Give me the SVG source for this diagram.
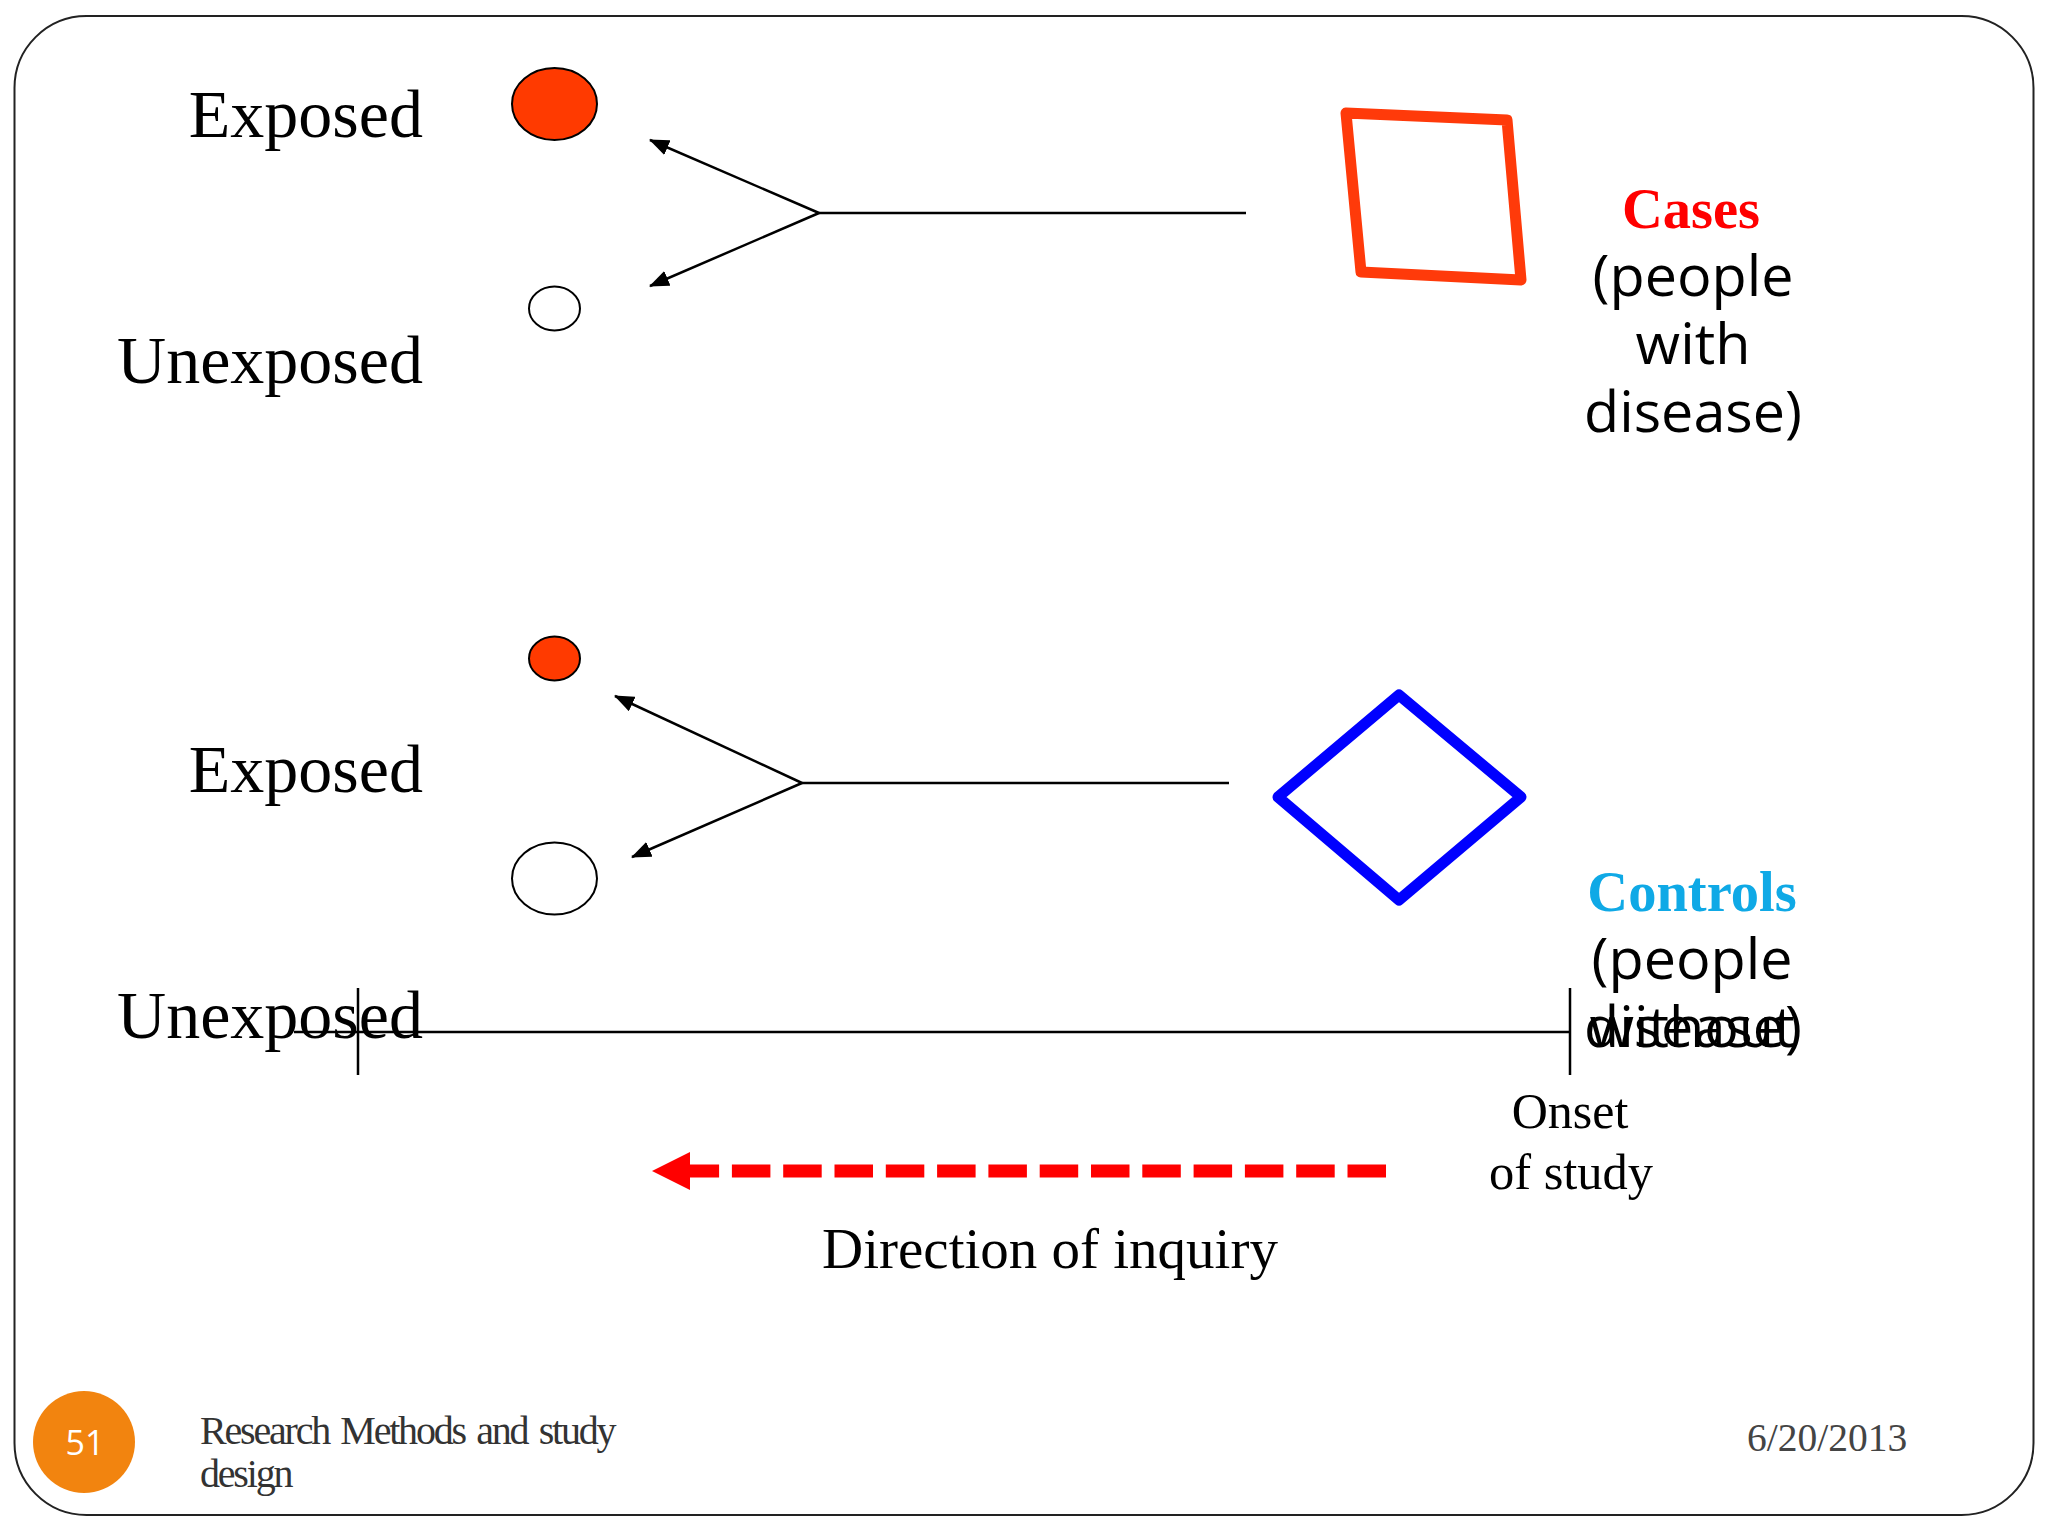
<svg xmlns="http://www.w3.org/2000/svg" width="2048" height="1536" viewBox="0 0 2048 1536">
<style>
.t{font-family:"Liberation Serif","Times New Roman",serif;fill:#000}
.s{font-family:"Open Sans","Noto Sans",sans-serif;fill:#000;font-size:57.500px;text-anchor:middle}
.g{font-size:68px;text-anchor:end}
.c{stroke:#000;stroke-width:2.500;fill:none}
.a{stroke:#000;stroke-width:2.500;fill:none;marker-end:url(#ah)}
.e{stroke:#000;stroke-width:2}
</style>
<defs>
<marker id="ah" markerUnits="userSpaceOnUse" markerWidth="20" markerHeight="16" refX="19" refY="8" orient="auto"><path d="M0 0L20 8L0 16Z" fill="#000"/></marker>
</defs>
<rect width="2048" height="1536" fill="#fff"/>
<rect id="frame" x="14.500" y="16" width="2019" height="1499" rx="72" ry="72" fill="#fff" stroke="#222" stroke-width="2"/>
<g id="exposure-labels">
<text class="t g" x="423" y="137">Exposed</text>
<text class="t g" x="423" y="383">Unexposed</text>
<text class="t g" x="423" y="792">Exposed</text>
<text class="t g" x="423" y="1038">Unexposed</text>
</g>
<g id="exposed-cases"><ellipse class="e" cx="554.500" cy="104" rx="42.500" ry="36" fill="#ff3a00"/></g>
<g id="unexposed-cases"><ellipse class="e" cx="554.500" cy="308.500" rx="25.500" ry="22" fill="#fff" stroke-width="1.500"/></g>
<g id="exposed-controls"><ellipse class="e" cx="554.500" cy="658.500" rx="25.500" ry="22" fill="#ff3a00"/></g>
<g id="unexposed-controls"><ellipse class="e" cx="554.500" cy="878.500" rx="42.500" ry="36" fill="#fff"/></g>
<g id="connectors">
<path class="c" d="M819 213H1246"/>
<path class="a" d="M819 213L650 140"/>
<path class="a" d="M819 213L650 286"/>
<path class="c" d="M802 783H1229"/>
<path class="a" d="M802 783L615 696"/>
<path class="a" d="M802 783L632 857"/>
<path class="c" d="M294 1032H1570" stroke-width="3"/>
<path class="c" d="M358 988V1075M1570 988V1075" stroke-width="2"/>
<path d="M1386 1171H690" stroke="#f00" stroke-width="13" stroke-dasharray="38.500 12.800" fill="none"/>
<path d="M652 1171L690 1152V1190Z" fill="#f00"/>
</g>
<g id="cases-shape"><path d="M1346 113L1507 120L1521 280L1361 272Z" fill="none" stroke="#ff3a0a" stroke-width="11" stroke-linejoin="round"/></g>
<g id="controls-shape"><path d="M1399 695L1521 797L1399 900L1278 797Z" fill="none" stroke="#00f" stroke-width="11" stroke-linejoin="round"/></g>
<g id="cases-label">
<text class="t" x="1691" y="228" font-size="56.500" font-weight="bold" text-anchor="middle" style="fill:#f00">Cases</text>
<text class="s" x="1693" y="296">(people</text>
<text class="s" x="1693" y="364">with</text>
<text class="s" x="1693" y="432">disease)</text>
</g>
<g id="controls-label">
<text class="t" x="1692" y="911" font-size="56.500" font-weight="bold" text-anchor="middle" style="fill:#0fa9e6">Controls</text>
<text class="s" x="1692" y="979">(people</text>
<text class="s" x="1692" y="1047">without</text>
<text class="s" x="1693" y="1047">disease)</text>
</g>
<g id="onset-label">
<text class="t" x="1570" y="1128" font-size="50" text-anchor="middle">Onset</text>
<text class="t" x="1571" y="1189" font-size="50.500" text-anchor="middle">of study</text>
</g>
<g id="inquiry-label"><text class="t" x="1050" y="1268" font-size="57" text-anchor="middle">Direction of inquiry</text></g>
<g id="page-number"><circle cx="84" cy="1442" r="51" fill="#f2840f"/><text x="85" y="1455" font-family="'Open Sans','Noto Sans',sans-serif" font-size="34" fill="#fff" text-anchor="middle">51</text></g>
<g id="footer">
<text class="t" x="200" y="1444" font-size="40" letter-spacing="-2.200" word-spacing="3.500" style="fill:#333">Research Methods and study</text>
<text class="t" x="200" y="1487" font-size="40" letter-spacing="-2.200" style="fill:#333">design</text>
<text class="t" x="1747" y="1451" font-size="39.500" style="fill:#444">6/20/2013</text>
</g>
</svg>
